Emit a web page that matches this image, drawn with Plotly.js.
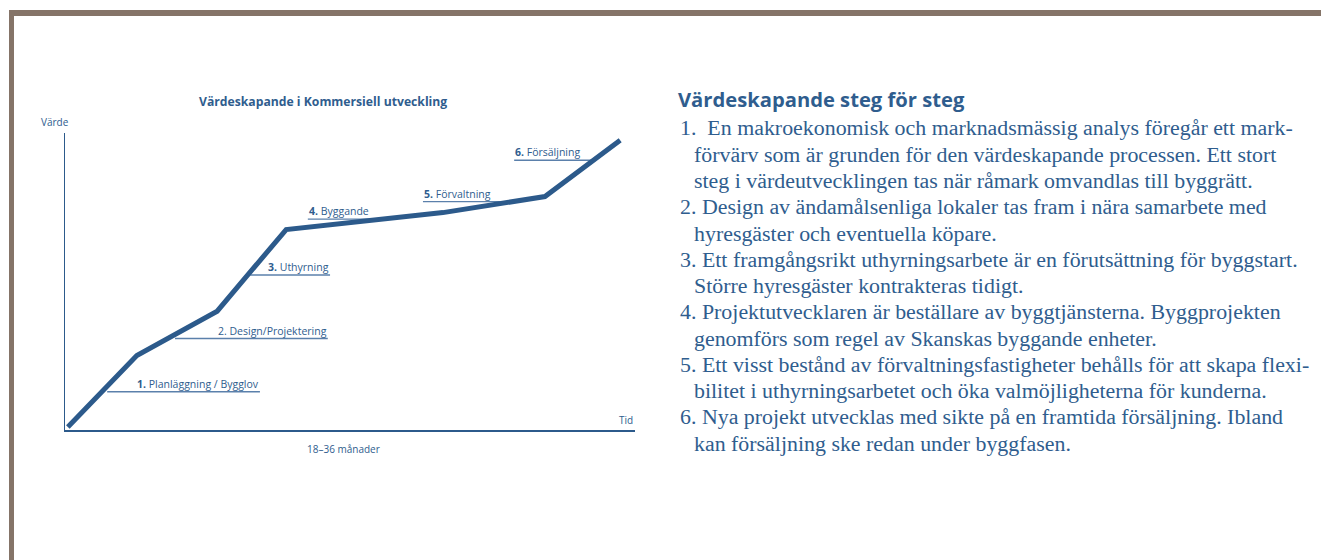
<!DOCTYPE html>
<html>
<head>
<meta charset="utf-8">
<script src="https://cdn.plot.ly/plotly-3.0.1.min.js"></script>
<style>
html,body{margin:0;padding:0;background:#fff;}
#chart{width:1321px;height:560px;}
</style>
</head>
<body>
<div id="chart"></div>
<script>
// ---- data ----
const chartTitle = "Värdeskapande i Kommersiell utveckling";
const yLabel = "Värde";
const xLabel = "Tid";
const durationLabel = "18–36 månader";

// value curve (time 0-100, value 0-100)
const timeValues  = [0.5, 12.6, 26.7, 38.8, 66.3, 84.2, 97.4];
const valueValues = [1.0, 25.1, 40.0, 67.5, 73.2, 78.6, 97.6];

// phase labels
const stepNums   = ["1.", "2.", "3.", "4.", "5.", "6."];
const stepNames  = ["Planläggning / Bygglov", "Design/Projektering", "Uthyrning", "Byggande", "Förvaltning", "Försäljning"];
const stepBoldNum = [true, false, true, true, true, true];
const stepStart  = [7.4, 19.3, 32.5, 42.6, 62.8, 78.8];
const stepEnd    = [34.2, 46.1, 46.5, 53.9, 76.3, 92.5];
const stepLevel  = [12.9, 30.8, 52.2, 71.0, 76.9, 90.8];
const stepAlign  = ["right", "right", "right", "left", "left", "left"];

// text block
const sideHeading = "Värdeskapande steg för steg";
const sideLines = [
  "1.  En makroekonomisk och marknadsmässig analys föregår ett mark-",
  "förvärv som är grunden för den värdeskapande processen. Ett stort",
  "steg i värdeutvecklingen tas när råmark omvandlas till byggrätt.",
  "2. Design av ändamålsenliga lokaler tas fram i nära samarbete med",
  "hyresgäster och eventuella köpare.",
  "3. Ett framgångsrikt uthyrningsarbete är en förutsättning för byggstart.",
  "Större hyresgäster kontrakteras tidigt.",
  "4. Projektutvecklaren är beställare av byggtjänsterna. Byggprojekten",
  "genomförs som regel av Skanskas byggande enheter.",
  "5. Ett visst bestånd av förvaltningsfastigheter behålls för att skapa flexi-",
  "bilitet i uthyrningsarbetet och öka valmöjligheterna för kunderna.",
  "6. Nya projekt utvecklas med sikte på en framtida försäljning. Ibland",
  "kan försäljning ske redan under byggfasen."
];
const sideIndent = [false, true, true, false, true, false, true, false, true, false, true, false, true];

// ---- layout helpers ----
const W = 1321, H = 560;
const px = x => x / W;
const py = y => 1 - y / H;
const BLUE = "#2c5a8b";
const TXT = "#2f5d8e";
const LIGHT = "#5b80ab";
const BORDER = "#857468";
const SANS = "'Open Sans', Lato, sans-serif";

const traces = [];
// underlines
const ux = [], uy = [];
for (let i = 0; i < stepNums.length; i++) {
  ux.push(stepStart[i], stepEnd[i], null);
  uy.push(stepLevel[i], stepLevel[i], null);
}
traces.push({x: ux, y: uy, mode: "lines", line: {color: LIGHT, width: 1.4}, hoverinfo: "skip", showlegend: false});
// value line
traces.push({x: timeValues, y: valueValues, mode: "lines", line: {color: BLUE, width: 5}, hoverinfo: "skip", showlegend: false});

const annotations = [];
for (let i = 0; i < stepNums.length; i++) {
  const num = stepBoldNum[i] ? "<b>" + stepNums[i] + "</b>" : stepNums[i];
  annotations.push({
    x: stepAlign[i] === "right" ? stepEnd[i] : stepStart[i],
    y: stepLevel[i], xref: "x", yref: "y",
    xanchor: stepAlign[i], yanchor: "bottom", showarrow: false,
    text: num + " " + stepNames[i],
    font: {family: SANS, size: 10.5, color: TXT},
    borderpad: 0, yshift: 0
  });
}
annotations.push({x: px(323), y: py(101), xref: "paper", yref: "paper", xanchor: "center", yanchor: "middle",
  showarrow: false, text: "<b>" + chartTitle + "</b>", font: {family: SANS, size: 12.2, color: TXT}});
annotations.push({x: px(39), y: py(122), xref: "paper", yref: "paper", xanchor: "left", yanchor: "middle",
  showarrow: false, text: yLabel, font: {family: SANS, size: 10, color: TXT}});
annotations.push({x: px(635), y: py(420), xref: "paper", yref: "paper", xanchor: "right", yanchor: "middle",
  showarrow: false, text: xLabel, font: {family: SANS, size: 10, color: TXT}});
annotations.push({x: px(343), y: py(449), xref: "paper", yref: "paper", xanchor: "center", yanchor: "middle",
  showarrow: false, text: durationLabel, font: {family: SANS, size: 10, color: TXT}});

annotations.push({x: px(676), y: py(99), xref: "paper", yref: "paper", xanchor: "left", yanchor: "middle",
  showarrow: false, text: "<b>" + sideHeading + "</b>", font: {family: SANS, size: 20.2, color: TXT}});
for (let i = 0; i < sideLines.length; i++) {
  annotations.push({
    x: px(sideIndent[i] ? 692 : 678), y: py(128 + i * 26.25), xref: "paper", yref: "paper",
    xanchor: "left", yanchor: "middle", showarrow: false, text: sideLines[i],
    font: {family: "'Liberation Serif', 'Times New Roman', serif", size: 21.9, color: TXT}
  });
}

const shapes = [
  {type: "rect", xref: "paper", yref: "paper", x0: px(9), x1: 1, y0: py(16), y1: py(10), fillcolor: BORDER, line: {width: 0}},
  {type: "rect", xref: "paper", yref: "paper", x0: px(9), x1: px(14), y0: 0, y1: py(10), fillcolor: BORDER, line: {width: 0}}
];

const layout = {
  width: W, height: H,
  margin: {l: 0, r: 0, t: 0, b: 0},
  paper_bgcolor: "#fff", plot_bgcolor: "#fff",
  showlegend: false,
  xaxis: {domain: [px(65), px(635)], range: [0, 100], showline: true, linecolor: BLUE, linewidth: 1.5,
    showticklabels: false, ticks: "", showgrid: false, zeroline: false, fixedrange: true},
  yaxis: {domain: [py(430), py(133)], range: [0, 100], showline: true, linecolor: BLUE, linewidth: 1.5,
    showticklabels: false, ticks: "", showgrid: false, zeroline: false, fixedrange: true},
  annotations: annotations,
  shapes: shapes
};

Plotly.newPlot("chart", traces, layout, {displayModeBar: false, staticPlot: true});
</script>
</body>
</html>
